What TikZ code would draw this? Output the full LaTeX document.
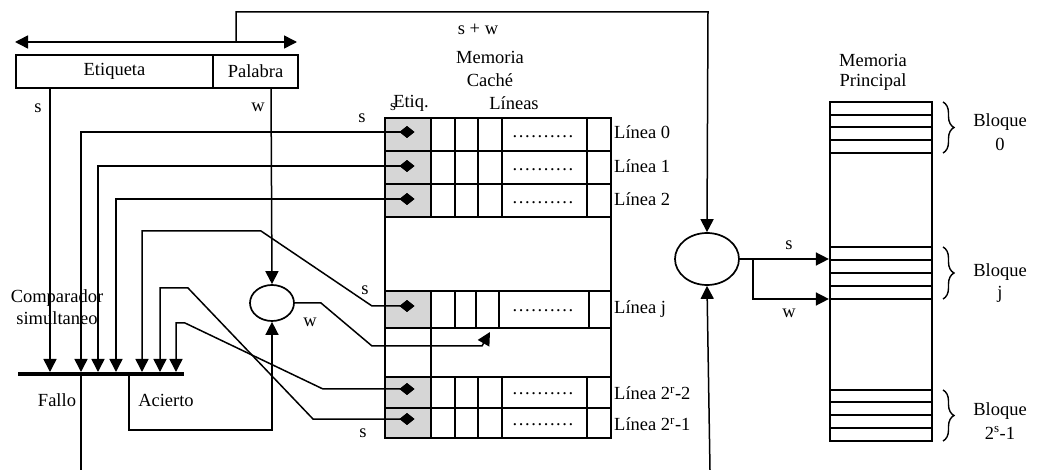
\documentclass[tikz,border=0pt]{standalone}
\usepackage{fontspec}
\setmainfont{Liberation Serif}
\usetikzlibrary{arrows.meta,shapes.geometric,decorations.pathreplacing}
\newcommand\dotrow{.\kern1.6pt.\kern1.6pt.\kern1.6pt.\kern1.6pt.\kern1.6pt.\kern1.6pt.\kern1.6pt.\kern1.6pt.\kern1.6pt.}
\begin{document}
\begin{tikzpicture}[x=1pt,y=-1pt,
  font=\fontsize{18.5}{20}\selectfont,
  conn/.style={line width=1.5pt},
  tip/.tip={Triangle[length=13pt,width=13pt]},
  arr/.style={conn,-tip},
  box/.style={draw,line width=2.2pt,inner sep=0pt},
  lbl/.style={inner sep=0pt},
  dia/.style={diamond,fill=black,inner sep=0pt,minimum width=15pt,minimum height=12pt},
  ring/.style={draw,ellipse,line width=1.7pt,inner sep=0pt},
  grid/.style={line width=2.2pt},
  brc/.style={decorate,decoration={brace,amplitude=11pt},line width=1.4pt},
  dots/.style={inner sep=0pt,anchor=base}
  ]
\useasboundingbox (0,0) rectangle (1042,470);

% ---------- address register ----------
\node[box,minimum width=197pt,minimum height=33pt] (etq) at (114.5,71.5) {Etiqueta};
\node[box,minimum width=85pt,minimum height=33pt] (pal) at (255.5,71.5) {Palabra};
\coordinate (al) at (15,42);
\coordinate (ar) at (297,42);
\draw[conn,tip-tip] (al) -- (ar);
\coordinate (sw) at (236,42);

% ---------- cache ----------
\fill[black!16] (385,118) rectangle (431,217);
\fill[black!16] (385,291) rectangle (431,328);
\fill[black!16] (385,377) rectangle (431,438);
\foreach \y in {151,184,217,291,328,377,408}
  \draw[grid] (385,\y) -- (611,\y);
\foreach \a/\b in {118/217,377/438}
  \foreach \x in {431,455,478,502,587}
    \draw[grid] (\x,\a) -- (\x,\b);
\foreach \x in {431,455,476,499,589}
  \draw[grid] (\x,291) -- (\x,328);
\draw[grid] (431,328) -- (431,377);
\node[box,minimum width=226pt,minimum height=320pt] (cache) at (498,278) {};
\foreach \y in {138,171,204,312,395,425}
  \node[dots] at (543,\y) {\dotrow};
\node[dia] (d0) at (407,132) {};
\node[dia] (d1) at (407,166) {};
\node[dia] (d2) at (407,199) {};
\node[dia] (d3) at (407,306) {};
\node[dia] (d4) at (407,389) {};
\node[dia] (d5) at (407,419) {};
\node[lbl,anchor=west] at (614,132) {Línea 0};
\node[lbl,anchor=west] at (614,166) {Línea 1};
\node[lbl,anchor=west] at (614,199) {Línea 2};
\node[lbl,anchor=west] at (614,309) {Línea j};
\node[lbl,anchor=west] at (614,393) {Línea 2\textsuperscript{r}-2};
\node[lbl,anchor=west] at (614,424) {Línea 2\textsuperscript{r}-1};
\node[lbl] at (490,57) {Memoria};
\node[lbl] at (490,80) {Caché};
\node[lbl] at (411,103) {Etiq.};
\node[lbl] at (514,103) {Líneas};
\node[lbl] at (478,29) {s + w};

% ---------- comparator ----------
\node[fill=black,inner sep=0pt,minimum width=166pt,minimum height=4.5pt] (comp) at (101,374) {};
\node[lbl] at (57,298) {Comparador};
\node[lbl] at (57,318) {simultaneo};
\node[lbl] at (57,400) {Fallo};
\node[lbl] at (166,400) {Acierto};

\draw[arr] (50,88) -- (50,372);
\node[lbl] at (38,108) {s};
\draw[arr] (d0.center) -- (81,132) -- (81,372);
\draw[arr] (d1.center) -- (98,166) -- (98,372);
\draw[arr] (d2.center) -- (116,199) -- (116,372);
\draw[arr] (d3.center) -- (372,306) -- (261,231) -- (142,231) -- (142,372);
\draw[arr] (d5.center) -- (313,419) -- (188,288) -- (160,288) -- (160,372);
\draw[arr] (d4.center) -- (323,389) -- (185,323) -- (176,323) -- (176,372);
\node[dia] at (d0) {};
\node[dia] at (d1) {};
\node[dia] at (d2) {};
\node[dia] at (d3) {};
\node[dia] at (d4) {};
\node[dia] at (d5) {};
\node[lbl] at (362,118) {s};
\node[lbl,font=\fontsize{15}{16}\selectfont] at (393,107) {s};
\node[lbl] at (365,290) {s};
\node[lbl] at (363,433) {s};

\coordinate (fallo) at (81,470);
\draw[conn] (81,376) -- (fallo);

% ---------- word selector ----------
\node[ring,minimum width=44pt,minimum height=36pt] (sc) at (272,303) {};
\draw[arr] (271,88) -- (sc.north);
\node[lbl] at (258,107) {w};
\draw[arr] (129,376) -- (129,430) -- (272,430) -- (sc.south);
\draw[arr] (sc.east) -- (321,303) -- (372,346) -- (482,346) -- (490,332);
\node[lbl] at (310,322) {w};

% ---------- main memory access ----------
\node[ring,minimum width=64pt,minimum height=52pt] (bc) at (707,259) {};
\draw[arr] (sw) -- (236,12) -- (708,12) -- (bc.north);
\coordinate (bin) at (710,470);
\draw[arr] (bin) -- (bc.south);
\node[box,minimum width=102pt,minimum height=339pt] (mp) at (881,271.5) {};
\draw[arr] (bc.east) -- (mp.west |- bc.east);
\draw[arr] (753,259) -- (753,299) -- (mp.west |- 0,299);
\node[lbl] at (789,245) {s};
\node[lbl] at (789,313) {w};
\foreach \y in {115,127,140,153,247,260,273,286,299,390,402,415,428}
  \draw[grid] (830,\y) -- (932,\y);
\node[lbl] at (873,60) {Memoria};
\node[lbl] at (873,82) {Principal};
\draw[brc] (943,102) -- (943,153);
\draw[brc] (943,247) -- (943,299);
\draw[brc] (943,390) -- (943,441);
\node[lbl] at (1000,122) {Bloque};
\node[lbl] at (1000,144) {0};
\node[lbl] at (1000,272) {Bloque};
\node[lbl] at (1000,294) {j};
\node[lbl] at (1000,411) {Bloque};
\node[lbl] at (1000,433) {2\textsuperscript{s}-1};
\end{tikzpicture}
\end{document}
